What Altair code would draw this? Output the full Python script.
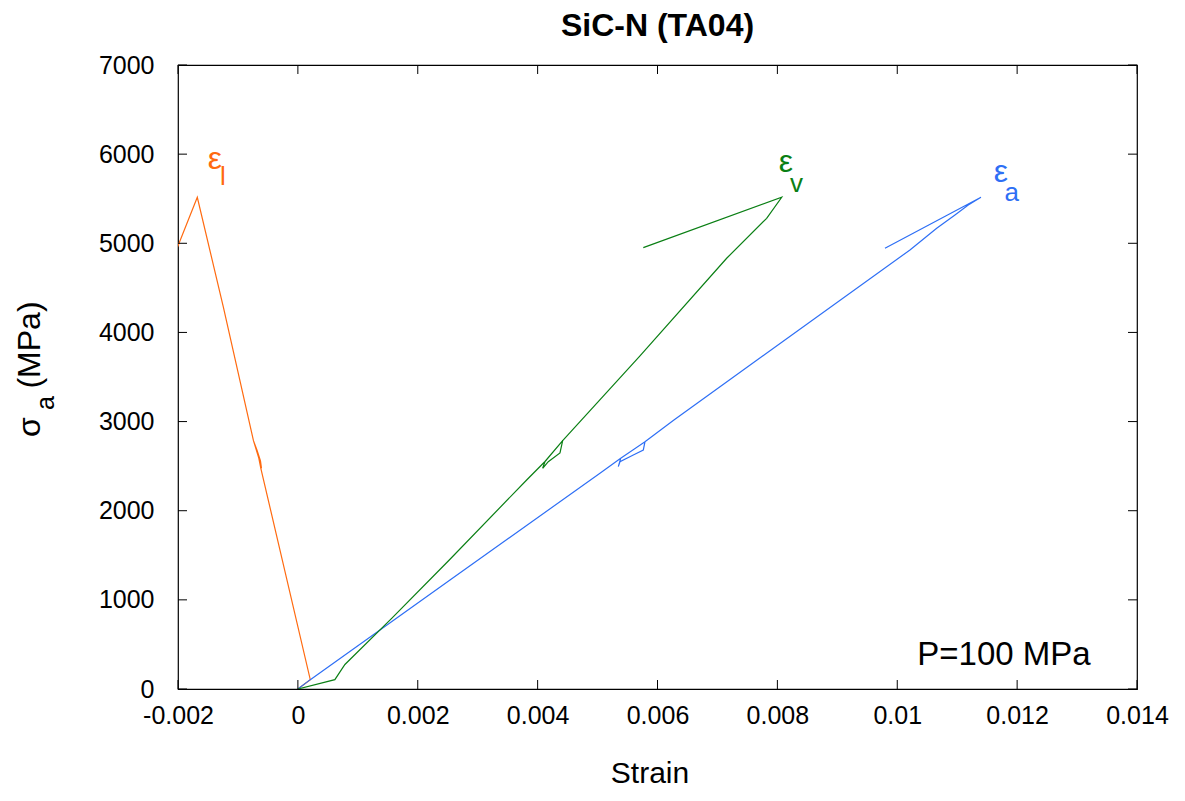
import altair as alt
import pandas as pd

# ---- data ----
lat_strain = [0, 0.000207, -0.000618, -0.000652, -0.000741, -0.000683, -0.000624, -0.000607,
              -0.000652, -0.000741, -0.001245, -0.001678, -0.00201]
lat_stress = [0, 105, 2476, 2591, 2786, 2681, 2558, 2476, 2591, 2786, 4289, 5516, 4955]

ax_strain = [0, 0.000207, 0.002538, 0.005040, 0.005386, 0.005791, 0.005763, 0.005596, 0.005374,
             0.005346, 0.005386, 0.005791, 0.006274, 0.010212, 0.010658, 0.010963, 0.011185,
             0.011397, 0.009795]
ax_stress = [0, 105, 1223, 2420, 2588, 2774, 2681, 2625, 2550, 2494, 2588, 2774, 3018, 4925,
             5168, 5318, 5430, 5516, 4944]

vol_strain = [0, 0.000617, 0.000785, 0.001565, 0.002526, 0.003817, 0.004123, 0.004418, 0.004373,
              0.004178, 0.004084, 0.004123, 0.004418, 0.005708, 0.007154, 0.007821, 0.008072,
              0.005763]
vol_stress = [0, 105, 275, 793, 1447, 2345, 2552, 2786, 2648, 2550, 2476, 2552, 2786, 3736, 4832,
              5280, 5516, 4951]

series_names = ["lateral", "axial", "volumetric"]
series_colors = ["#ff6a10", "#2e6ff5", "#0a7f14"]

x_ticks = [-0.002, 0, 0.002, 0.004, 0.006, 0.008, 0.01, 0.012, 0.014]
y_ticks = [0, 1000, 2000, 3000, 4000, 5000, 6000, 7000]

label_series = ["lateral", "volumetric", "axial"]
eps_labels = ["ε", "ε", "ε"]
eps_x = [-0.001383, 0.00814, 0.01173]
eps_y = [5946, 5912, 5800]
sub_labels = ["l", "v", "a"]
sub_x = [-0.001250, 0.008320, 0.011910]
sub_y = [5740, 5665, 5560]

note_text = ["P=100 MPa"]
note_x = [0.01178]
note_y = [381]

title_text = "SiC-N (TA04)"
x_title = "Strain"

W, H = 959, 624
FONT = "Liberation Sans"

rows = []
for name, xs_, ys_ in [("lateral", lat_strain, lat_stress),
                       ("axial", ax_strain, ax_stress),
                       ("volumetric", vol_strain, vol_stress)]:
    for i, (a, b) in enumerate(zip(xs_, ys_)):
        rows.append({"series": name, "strain": a, "stress": b, "idx": i})
df = pd.DataFrame(rows)

xs = alt.Scale(domain=[-0.002, 0.014], nice=False, zero=False)
ys = alt.Scale(domain=[0, 7000], nice=False)
cs = alt.Scale(domain=series_names, range=series_colors)

xax = alt.Axis(values=x_ticks, ticks=False, grid=False, domain=False, title=None,
               labelFont=FONT, labelFontSize=25, labelColor="black", labelPadding=14,
               labelFlush=False, labelOverlap=False,
               labelExpr="replace(format(datum.value, '~g'), '−', '-')")
yax = alt.Axis(values=y_ticks, ticks=False, grid=False, domain=False, title=None,
               labelFont=FONT, labelFontSize=25, labelColor="black", labelPadding=24,
               labelFlush=False, labelOverlap=False, format="d")

def X(f):
    return alt.X(f, scale=xs, axis=xax)

def Y(f):
    return alt.Y(f, scale=ys, axis=yax)

lines = alt.Chart(df).mark_line(strokeWidth=1.2, clip=True).encode(
    x=X("strain:Q"), y=Y("stress:Q"),
    color=alt.Color("series:N", scale=cs, legend=None),
    order="idx:Q",
)

xt = pd.DataFrame({"v": x_ticks})
yt = pd.DataFrame({"v": y_ticks})

xtick_b = alt.Chart(xt).mark_rule(color="black", strokeWidth=1).encode(
    x=X("v:Q"), y=alt.value(H), y2=alt.value(H - 9))
xtick_t = alt.Chart(xt).mark_rule(color="black", strokeWidth=1).encode(
    x=X("v:Q"), y=alt.value(0), y2=alt.value(9))
ytick_l = alt.Chart(yt).mark_rule(color="black", strokeWidth=1).encode(
    y=Y("v:Q"), x=alt.value(0), x2=alt.value(9))
ytick_r = alt.Chart(yt).mark_rule(color="black", strokeWidth=1).encode(
    y=Y("v:Q"), x=alt.value(W), x2=alt.value(W - 9))

edf = pd.DataFrame({"t": eps_labels, "x": eps_x, "y": eps_y, "series": label_series})
sdf = pd.DataFrame({"t": sub_labels, "x": sub_x, "y": sub_y, "series": label_series})
eps = alt.Chart(edf).mark_text(font=FONT, fontSize=32, baseline="middle", align="center").encode(
    x=X("x:Q"), y=Y("y:Q"), text="t:N",
    color=alt.Color("series:N", scale=cs, legend=None))
subs = alt.Chart(sdf).mark_text(font=FONT, fontSize=26, baseline="middle", align="center").encode(
    x=X("x:Q"), y=Y("y:Q"), text="t:N",
    color=alt.Color("series:N", scale=cs, legend=None))

ndf = pd.DataFrame({"t": note_text, "x": note_x, "y": note_y})
note = alt.Chart(ndf).mark_text(font=FONT, fontSize=33, baseline="middle", align="center",
                                color="black").encode(
    x=X("x:Q"), y=Y("y:Q"), text="t:N")

one = pd.DataFrame({"a": [0]})
title = alt.Chart(one).mark_text(font=FONT, fontSize=32, fontWeight="bold", baseline="middle",
                                 align="center", color="black", text=title_text).encode(
    x=alt.value(479.5), y=alt.value(-39))
xtitle = alt.Chart(one).mark_text(font=FONT, fontSize=30, baseline="middle", align="center",
                                  color="black", text=x_title).encode(
    x=alt.value(472), y=alt.value(709))
sigma = alt.Chart(one).mark_text(font=FONT, fontSize=32, baseline="middle", align="center",
                                 color="black", angle=270, text="σ").encode(
    x=alt.value(-148), y=alt.value(362))
sigma_sub = alt.Chart(one).mark_text(font=FONT, fontSize=25, baseline="middle", align="center",
                                     color="black", angle=270, text="a").encode(
    x=alt.value(-132), y=alt.value(338))
mpa = alt.Chart(one).mark_text(font=FONT, fontSize=32, baseline="middle", align="center",
                               color="black", angle=270, text="(MPa)").encode(
    x=alt.value(-148), y=alt.value(280))

chart = alt.layer(lines, xtick_b, xtick_t, ytick_l, ytick_r, eps, subs, note,
                  title, xtitle, sigma, sigma_sub, mpa).properties(
    width=W, height=H,
    autosize=alt.AutoSizeParams(type="none"),
    padding={"left": 170, "top": 57, "right": 38, "bottom": 102},
    background="white",
).configure_view(stroke="black", strokeWidth=1.2)

chart.save("out.html", embed_options={"renderer": "svg", "actions": False})
